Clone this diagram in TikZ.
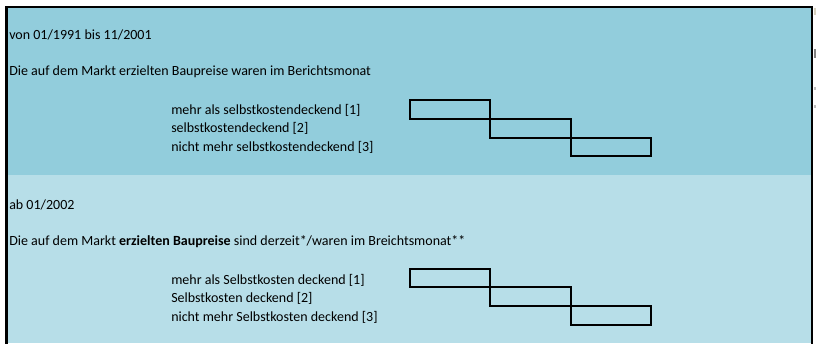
\documentclass[tikz,border=0pt]{standalone}
\usepackage{fontspec}
\setmainfont{Carlito}
\definecolor{topfill}{HTML}{92CDDC}
\definecolor{botfill}{HTML}{B7DEE8}
\definecolor{fragA}{RGB}{214,208,190}
\definecolor{fragB}{RGB}{130,130,130}
\definecolor{fragC}{RGB}{190,190,190}
\tikzset{
  txt/.style={anchor=west, inner sep=0pt, font=\fontsize{10.5}{12}\selectfont},
  boxline/.style={draw=black, line width=1.5pt},
  frame/.style={draw=black, line width=1.9pt}
}
\begin{document}
\begin{tikzpicture}[x=0.75pt,y=-0.75pt]
\useasboundingbox (0,0) rectangle (816,343);
\fill[white] (0,0) rectangle (816,343);
% panels
\fill[topfill] (6,7) rectangle (812,175);
\fill[botfill] (6,175) rectangle (812,343);
% frame
\draw[frame] (6.5,345) -- (6.5,7) -- (812,7) -- (812,345);
% right-side fragments
\fill[fragA] (813.5,8) rectangle (816,15);
\fill[fragB] (814,49) rectangle (816,58);
\fill[fragC] (814,87) rectangle (816,90);
\fill[fragC] (814,105) rectangle (816,108);
% top texts
\node[txt] (t1) at (9,35) {von 01/1991 bis 11/2001};
\node[txt] (t2) at (9,72) {Die auf dem Markt erzielten Baupreise waren im Berichtsmonat};
\node[txt] (t3) at (171,110) {mehr als selbstkostendeckend [1]};
\node[txt] (t4) at (171,128) {selbstkostendeckend [2]};
\node[txt] (t5) at (171,147) {nicht mehr selbstkostendeckend [3]};
% top boxes
\draw[boxline] (410,100) rectangle (490,119);
\draw[boxline] (490,119) rectangle (571,138);
\draw[boxline] (571,138) rectangle (651,156);
% bottom texts
\node[txt] (u1) at (9,205) {ab 01/2002};
\node[txt] (u2) at (9,242) {Die auf dem Markt \textbf{erzielten Baupreise} sind derzeit*/waren im Breichtsmonat**};
\node[txt] (u3) at (171,280) {mehr als Selbstkosten deckend [1]};
\node[txt] (u4) at (171,298) {Selbstkosten deckend [2]};
\node[txt] (u5) at (171,317) {nicht mehr Selbstkosten deckend [3]};
% bottom boxes
\draw[boxline] (410,269) rectangle (490,287);
\draw[boxline] (490,287) rectangle (571,306);
\draw[boxline] (571,306) rectangle (651,325);
\end{tikzpicture}
\end{document}
